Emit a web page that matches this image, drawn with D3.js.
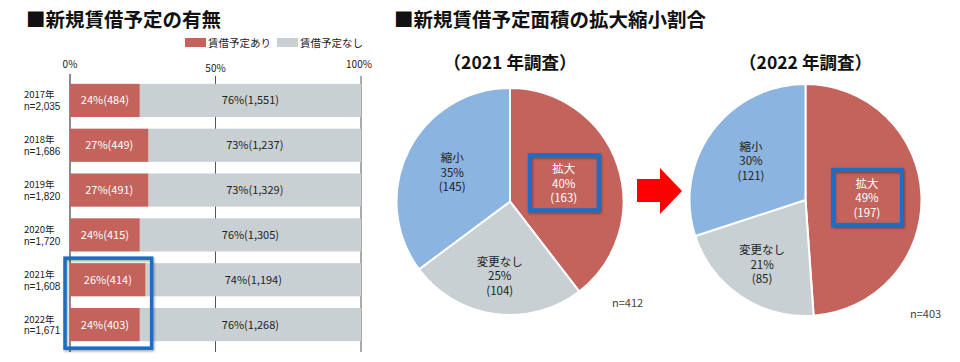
<!DOCTYPE html>
<html><head><meta charset="utf-8">
<script src="https://cdn.jsdelivr.net/npm/d3@7/dist/d3.min.js"></script>
<style>
html,body{margin:0;padding:0;background:#fff;}
svg{display:block;font-family:"Noto Sans CJK JP","Noto Sans",sans-serif;}
</style></head>
<body>
<svg id="c" width="960" height="362"></svg>
<script>
// ---- data ----
const years = ["2017年","2018年","2019年","2020年","2021年","2022年"];
const nLabels = ["n=2,035","n=1,686","n=1,820","n=1,720","n=1,608","n=1,671"];
const yesPct = [24,27,27,24,26,24];
const yesCount = ["484","449","491","415","414","403"];
const noPct = [76,73,73,76,74,76];
const noCount = ["1,551","1,237","1,329","1,305","1,194","1,268"];
const axisTicks = [0,50,100];
const legendLabels = ["賃借予定あり","賃借予定なし"];

const pieCats = ["拡大","変更なし","縮小"];
const pie2021 = [163,104,145];
const pie2021Pct = [40,25,35];
const pie2022 = [197,85,121];
const pie2022Pct = [49,21,30];
const pieTitles = ["（2021 年調査）","（2022 年調査）"];
const pieN = ["n=412","n=403"];

const RED = "#c4625c", GRAY = "#c9d0d4", BLUE = "#8cb4e0", BOX = "#1a6dc4";

const svg = d3.select("#c");
const defs = svg.append("defs");
const f = defs.append("filter").attr("id","sh").attr("x","-20%").attr("y","-20%").attr("width","140%").attr("height","140%");
f.append("feDropShadow").attr("dx",1).attr("dy",1.5).attr("stdDeviation",1.2).attr("flood-color","#000").attr("flood-opacity",0.35);

// ---- titles ----
svg.append("text").attr("x",26).attr("y",27).attr("font-size",19.5).attr("font-weight","bold").attr("fill","#111").text("■新規賃借予定の有無");
svg.append("text").attr("x",394).attr("y",27).attr("font-size",19.5).attr("font-weight","bold").attr("fill","#111").text("■新規賃借予定面積の拡大縮小割合");

// ---- bar chart ----
const x = d3.scaleLinear().domain([0,100]).range([70,361]);
const y = d3.scaleBand().domain(years).range([78,347]).paddingInner(0.26).paddingOuter(0.13);

// legend
const lg = svg.append("g");
[[185,RED,legendLabels[0]],[277,GRAY,legendLabels[1]]].forEach(([lx,c,t])=>{
  lg.append("rect").attr("x",lx).attr("y",38).attr("width",21).attr("height",9).attr("fill",c);
  lg.append("text").attr("x",lx+23).attr("y",47).attr("font-size",10.5).attr("fill","#222").text(t);
});

// gridlines & tick labels
axisTicks.forEach(t=>{
  svg.append("line").attr("x1",x(t)).attr("x2",x(t)).attr("y1",t===0?74:76).attr("y2",352)
    .attr("stroke",t===0?"#666":"#555").attr("stroke-width",t===0?1.5:1);
  svg.append("text").attr("x",x(t)+(t===100?-2:0)).attr("y",t===50?72:68).attr("text-anchor","middle")
    .attr("font-size",10).attr("fill","#222").text(t+"%");
});

years.forEach((yr,i)=>{
  const y0 = y(yr), h = y.bandwidth();
  svg.append("rect").attr("x",x(0)).attr("y",y0).attr("width",x(yesPct[i])-x(0)).attr("height",h).attr("fill",RED);
  svg.append("rect").attr("x",x(yesPct[i])).attr("y",y0).attr("width",x(100)-x(yesPct[i])).attr("height",h).attr("fill",GRAY);
  svg.append("text").attr("x",(x(0)+x(yesPct[i]))/2).attr("y",y0+h/2+4).attr("text-anchor","middle")
    .attr("font-size",11).attr("fill","#fff").text(yesPct[i]+"%("+yesCount[i]+")");
  svg.append("text").attr("x",(x(yesPct[i])+x(100))/2).attr("y",y0+h/2+4).attr("text-anchor","middle")
    .attr("font-size",11).attr("fill","#222").text(noPct[i]+"%("+noCount[i]+")");
  svg.append("text").attr("x",24).attr("y",y0+h/2-2).attr("font-size",9.5).attr("fill","#222").text(yr);
  svg.append("text").attr("x",24).attr("y",y0+h/2+9.8).attr("font-size",10)
    .attr("font-family","'Liberation Sans',Arial,sans-serif").attr("fill","#222").text(nLabels[i]);
});
// highlight box on bars 2021-2022
svg.append("rect").attr("x",x(0)-5).attr("y",y(years[4])-5)
  .attr("width",x(yesPct[4])-x(0)+11).attr("height",y(years[5])+y.bandwidth()-y(years[4])+12)
  .attr("fill","none").attr("stroke",BOX).attr("stroke-width",3.5).attr("filter","url(#sh)");

// ---- pies ----
const pieColors = [RED,GRAY,BLUE];
const labelFill = ["#fff","#222","#222"];
function drawPie(cx, cy, R, vals, pcts, title, nText, labelR, nPos){
  const g = svg.append("g").attr("transform",`translate(${cx},${cy})`);
  const arcs = d3.pie().sort(null).value(d=>d)(vals);
  const arc = d3.arc().innerRadius(0).outerRadius(R);
  g.selectAll("path").data(arcs).join("path").attr("d",arc)
    .attr("fill",(d,i)=>pieColors[i]).attr("stroke","#fff").attr("stroke-width",2);
  arcs.forEach((a,i)=>{
    const m = (a.startAngle+a.endAngle)/2, r = R*labelR[i];
    const lx = Math.sin(m)*r, ly = -Math.cos(m)*r;
    const t = g.append("text").attr("text-anchor","middle").attr("font-size",11.5).attr("fill",labelFill[i]);
    [pieCats[i], pcts[i]+"%", "("+vals[i]+")"].forEach((s,k)=>{
      t.append("tspan").attr("x",lx).attr("y",ly-10+k*14.5).text(s);
    });
    if(i===0){
      g.append("rect").attr("x",lx-34).attr("y",ly-28).attr("width",69).attr("height",55)
        .attr("fill","none").attr("stroke",BOX).attr("stroke-width",4).attr("filter","url(#sh)");
    }
  });
  svg.append("text").attr("x",cx).attr("y",69).attr("text-anchor","middle").attr("font-size",17.5)
    .attr("font-weight","bold").attr("fill","#111").text(title);
  svg.append("text").attr("x",nPos[0]).attr("y",nPos[1]).attr("font-size",11).attr("fill","#444").text(nText);
}
drawPie(510,201.5,113.5,pie2021,pie2021Pct,pieTitles[0],pieN[0],[0.5,0.66,0.57],[612,307]);
drawPie(805.5,200,116,pie2022,pie2022Pct,pieTitles[1],pieN[1],[0.53,0.67,0.58],[910,318]);

// arrow
svg.append("path").attr("d","M637,179 L660,179 L660,168 L682,191 L660,214 L660,202 L637,202 Z").attr("fill","#ff0000");
</script>
</body></html>
